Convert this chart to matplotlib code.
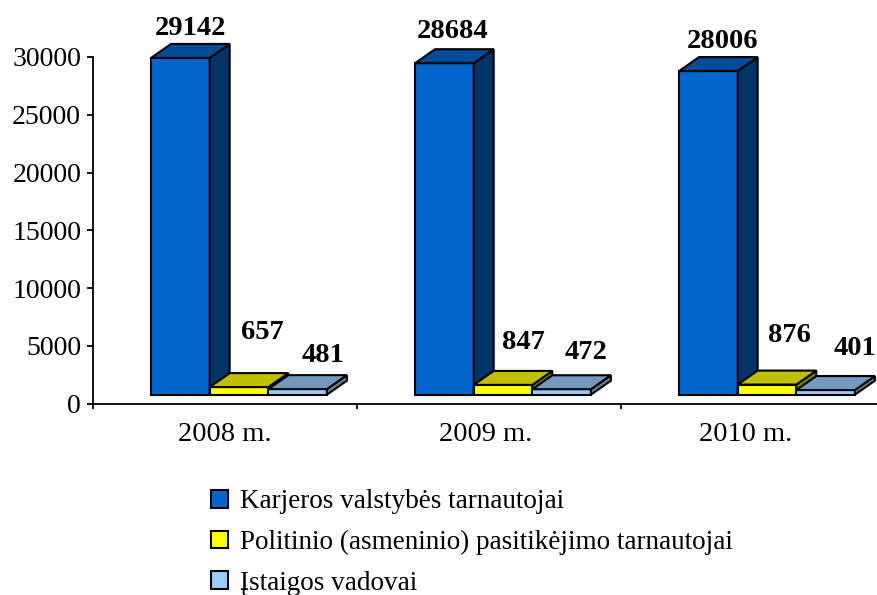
import matplotlib
matplotlib.use("Agg")
import matplotlib.pyplot as plt
from matplotlib.patches import Patch, Polygon

plt.rcParams['font.family'] = ['Liberation Serif', 'DejaVu Serif']

years = ['2008 m.', '2009 m.', '2010 m.']
career = [29142, 28684, 28006]
political = [657, 847, 876]
heads = [481, 472, 401]

series_names = ['Karjeros valstybės tarnautojai',
                'Politinio (asmeninio) pasitikėjimo tarnautojai',
                'Įstaigos vadovai']
series_values = [career, political, heads]
front_colors = ['#0066CC', '#FFFF00', '#99CCFF']
top_colors = ['#004C99', '#BFBF00', '#7399BF']
side_colors = ['#003366', '#808000', '#668099']

# label offsets from the top centre of each bar, in points
label_dx = [[7, 6, 10], [17, 14.5, 16], [18, 17.5, 21]]
label_dy = [[21.5, 23, 21.5], [39, 30.6, 35], [24, 26.5, 30]]

W, H = 877, 595
fig = plt.figure(figsize=(W / 100, H / 100), dpi=100)
ax = fig.add_axes([93 / W, 1 - 403.7 / H, 792 / W, 346.7 / H])
ax.set_xlim(0, 3)
ax.set_ylim(0, 30000)

# fake 3D geometry
bar_w = 0.222
start = 0.22
floor = 780
depth_x = 20 / 264
depth_y = 1210

for s, values in enumerate(series_values):
    for i, v in enumerate(values):
        x0 = i + start + s * bar_w
        x1 = x0 + bar_w
        y0 = floor
        y1 = floor + v
        ax.bar(x0, v, bar_w, bottom=floor, align='edge', color=front_colors[s],
               edgecolor='black', linewidth=1.5, clip_on=False)
        side = [(x1, y0), (x1 + depth_x, y0 + depth_y), (x1 + depth_x, y1 + depth_y), (x1, y1)]
        top = [(x0, y1), (x1, y1), (x1 + depth_x, y1 + depth_y), (x0 + depth_x, y1 + depth_y)]
        ax.add_patch(Polygon(side, closed=True, facecolor=side_colors[s],
                             edgecolor='black', linewidth=1.5, clip_on=False))
        ax.add_patch(Polygon(top, closed=True, facecolor=top_colors[s],
                             edgecolor='black', linewidth=1.5, clip_on=False))
        ax.annotate(str(v), xy=((x0 + x1) / 2, y1), xytext=(label_dx[s][i], label_dy[s][i]),
                    textcoords='offset points', ha='center', va='center',
                    fontsize=20.5, fontweight='bold', color='black', annotation_clip=False)

ax.spines['top'].set_visible(False)
ax.spines['right'].set_visible(False)
ax.spines['left'].set_linewidth(1.3)
ax.spines['bottom'].set_linewidth(1.3)

ax.set_yticks(range(0, 30001, 5000))
ax.tick_params(axis='y', labelsize=20, length=4, width=1.3, pad=4.5)
ax.set_xticks([0, 1, 2, 3])
ax.set_xticklabels([])
ax.tick_params(axis='x', which='major', direction='out', length=3.5, width=1.3)
ax.set_xticks([0.5, 1.489, 2.473], minor=True)
ax.set_xticklabels(years, minor=True, fontsize=20.5)
ax.tick_params(axis='x', which='minor', length=0, pad=13.5)

handles = [Patch(facecolor=c, edgecolor='black', linewidth=1.5) for c in front_colors]
fig.legend(handles, series_names, loc='upper left', bbox_to_anchor=(211 / W, 1 - 489.5 / H),
           frameon=False, fontsize=19.5, handlelength=0.63, handleheight=0.6,
           handletextpad=0.44, labelspacing=0.57, borderpad=0, borderaxespad=0)

fig.savefig('out.png', dpi=100)
